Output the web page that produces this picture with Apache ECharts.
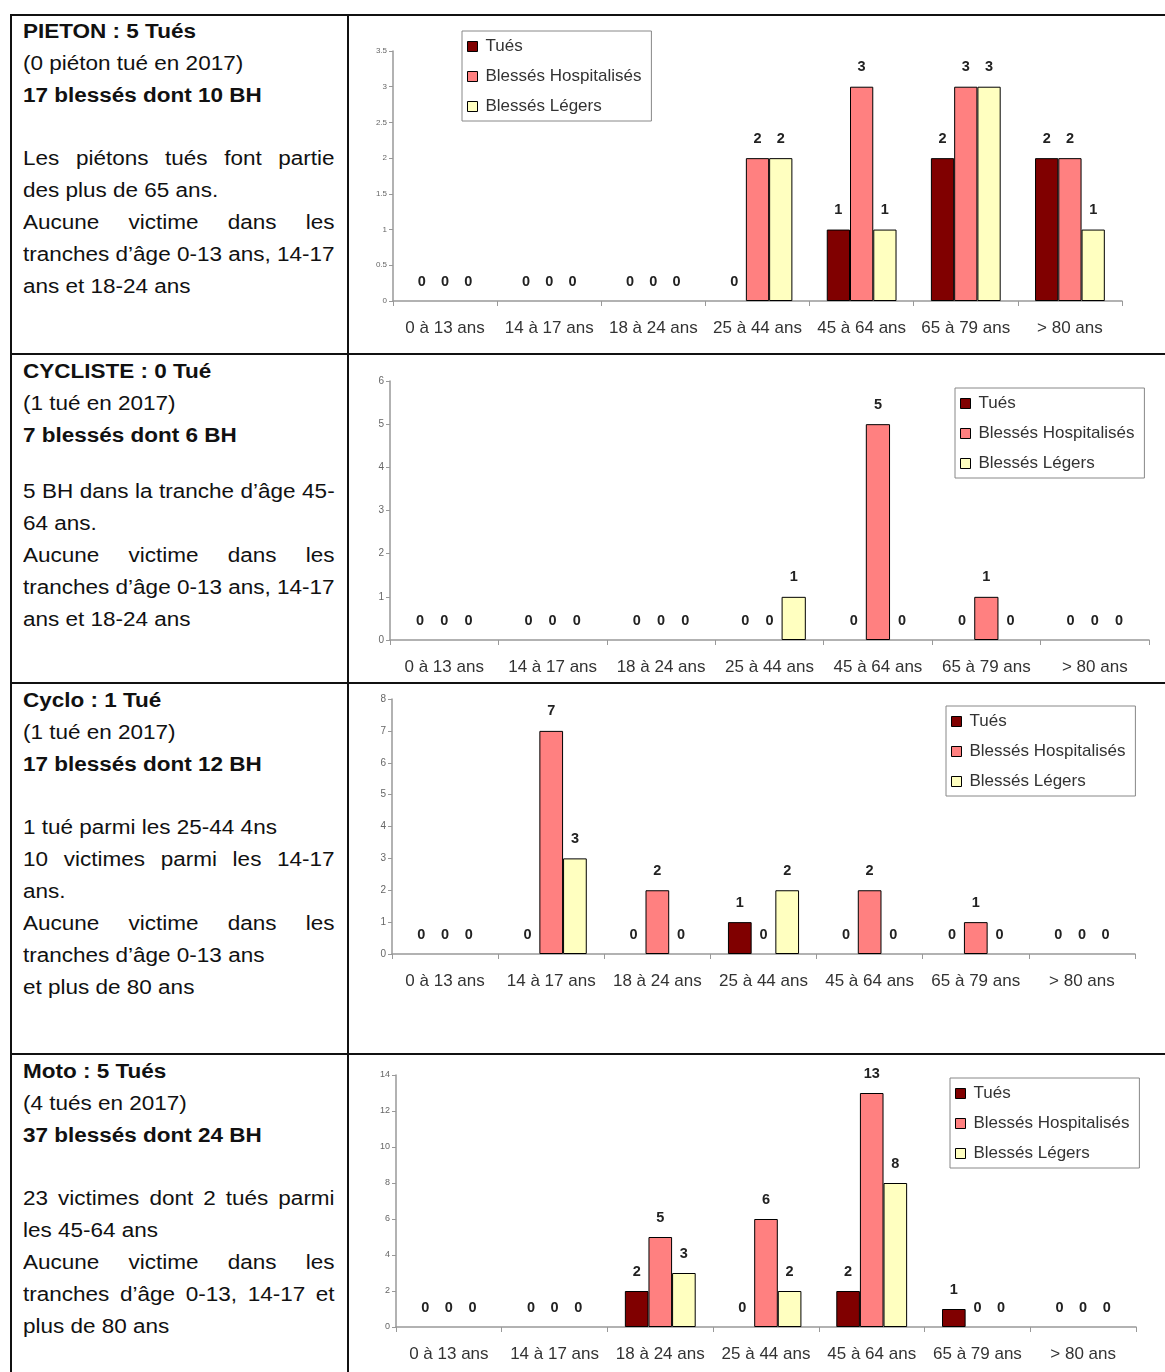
<!DOCTYPE html>
<html>
<head>
<meta charset="utf-8">
<script src="https://cdn.jsdelivr.net/npm/echarts@6/dist/echarts.min.js"></script>
<style>
  body { margin: 0; background: #fff; width: 1165px; height: 1372px; position: relative; overflow: hidden; }
  .line { position: absolute; background: #111; }
  .txt {
    position: absolute; left: 23px; width: 277px;
    font-family: "Liberation Sans", Arial, sans-serif; font-size: 20px; line-height: 32px;
    color: #111; transform: scaleX(1.125); transform-origin: left top;
  }
  .txt div { white-space: nowrap; }
  .txt .b { font-weight: bold; }
  .txt .j { text-align: justify; text-align-last: justify; }
  .chart { position: absolute; left: 349px; width: 816px; }
</style>
</head>
<body>
<!-- table frame -->
<div class="line" style="left:10px;top:14px;width:1155px;height:2px"></div>
<div class="line" style="left:10px;top:14px;width:2px;height:1358px"></div>
<div class="line" style="left:347px;top:14px;width:2px;height:1358px"></div>
<div class="line" style="left:10px;top:353px;width:1155px;height:2px"></div>
<div class="line" style="left:10px;top:682px;width:1155px;height:2px"></div>
<div class="line" style="left:10px;top:1053px;width:1155px;height:2px"></div>

<!-- left column texts -->
<div class="txt" style="top:15px">
  <div class="b">PIETON : 5 Tués</div>
  <div>(0 piéton tué en 2017)</div>
  <div class="b">17 blessés dont 10 BH</div>
  <div style="height:31px"></div>
  <div class="j">Les piétons tués font partie</div>
  <div>des plus de 65 ans.</div>
  <div class="j">Aucune victime dans les</div>
  <div class="j">tranches d’âge 0-13 ans, 14-17</div>
  <div>ans et 18-24 ans</div>
</div>
<div class="txt" style="top:355px">
  <div class="b">CYCLISTE : 0 Tué</div>
  <div>(1 tué en 2017)</div>
  <div class="b">7 blessés dont 6 BH</div>
  <div style="height:24px"></div>
  <div class="j">5 BH dans la tranche d’âge 45-</div>
  <div>64 ans.</div>
  <div class="j">Aucune victime dans les</div>
  <div class="j">tranches d’âge 0-13 ans, 14-17</div>
  <div>ans et 18-24 ans</div>
</div>
<div class="txt" style="top:684px">
  <div class="b">Cyclo : 1 Tué</div>
  <div>(1 tué en 2017)</div>
  <div class="b">17 blessés dont 12 BH</div>
  <div style="height:31px"></div>
  <div>1 tué parmi les 25-44 4ns</div>
  <div class="j">10 victimes parmi les 14-17</div>
  <div>ans.</div>
  <div class="j">Aucune victime dans les</div>
  <div>tranches d’âge 0-13 ans</div>
  <div>et plus de 80 ans</div>
</div>
<div class="txt" style="top:1055px">
  <div class="b">Moto : 5 Tués</div>
  <div>(4 tués en 2017)</div>
  <div class="b">37 blessés dont 24 BH</div>
  <div style="height:31px"></div>
  <div class="j">23 victimes dont 2 tués parmi</div>
  <div>les 45-64 ans</div>
  <div class="j">Aucune victime dans les</div>
  <div class="j">tranches d’âge 0-13, 14-17 et</div>
  <div>plus de 80 ans</div>
</div>

<!-- charts -->
<div id="pieton" class="chart" style="top:16px;height:337px"></div>
<div id="cycliste" class="chart" style="top:355px;height:327px"></div>
<div id="cyclo" class="chart" style="top:684px;height:369px"></div>
<div id="moto" class="chart" style="top:1055px;height:317px"></div>

<script>
  const categories = ['0 à 13 ans', '14 à 17 ans', '18 à 24 ans', '25 à 44 ans', '45 à 64 ans', '65 à 79 ans', '> 80 ans'];
  const seriesNames = ['Tués', 'Blessés Hospitalisés', 'Blessés Légers'];

  const pietonTues = [0, 0, 0, 0, 1, 2, 2];
  const pietonBH   = [0, 0, 0, 2, 3, 3, 2];
  const pietonBL   = [0, 0, 0, 2, 1, 3, 1];

  const cyclisteTues = [0, 0, 0, 0, 0, 0, 0];
  const cyclisteBH   = [0, 0, 0, 0, 5, 1, 0];
  const cyclisteBL   = [0, 0, 0, 1, 0, 0, 0];

  const cycloTues = [0, 0, 0, 1, 0, 0, 0];
  const cycloBH   = [0, 7, 2, 0, 2, 1, 0];
  const cycloBL   = [0, 3, 0, 2, 0, 0, 0];

  const motoTues = [0, 0, 2, 0, 2, 1, 0];
  const motoBH   = [0, 0, 5, 6, 13, 0, 0];
  const motoBL   = [0, 0, 3, 2, 8, 0, 0];

  const colors = ['#800000', '#ff8080', '#ffffc0'];
  const font = '"Liberation Sans", Arial, sans-serif';

  // zero bars get no outline, like Excel
  function items(values) {
    return values.map(v => v === 0 ? { value: v, itemStyle: { borderWidth: 0 } } : v);
  }

  function makeChart(id, data, yMax, yInterval, yFont, grid, legendPos) {
    const chart = echarts.init(document.getElementById(id));
    chart.setOption({
      animation: false,
      textStyle: { fontFamily: font },
      grid: grid,
      legend: {
        data: seriesNames,
        orient: 'vertical',
        left: legendPos[0],
        top: legendPos[1],
        icon: 'rect',
        itemWidth: 10,
        itemHeight: 10,
        itemGap: 13,
        padding: [7, 10, 6, 5],
        backgroundColor: '#fff',
        borderColor: '#888',
        borderWidth: 1,
        itemStyle: { borderColor: '#000', borderWidth: 1 },
        textStyle: { fontFamily: font, fontSize: 17, color: '#333', padding: [0, 0, 0, 3] }
      },
      xAxis: {
        type: 'category',
        data: categories,
        axisLine: { lineStyle: { color: '#999', width: 1.5 } },
        axisTick: { show: true, length: 5, lineStyle: { color: '#999' } },
        axisLabel: { fontFamily: font, fontSize: 17, color: '#333', margin: 19, interval: 0 }
      },
      yAxis: {
        type: 'value',
        min: 0,
        max: yMax,
        interval: yInterval,
        splitLine: { show: false },
        axisLine: { show: true, lineStyle: { color: '#999', width: 1.5 } },
        axisTick: { show: true, length: 4, lineStyle: { color: '#999' } },
        axisLabel: { fontFamily: font, fontSize: yFont, color: '#666', margin: 6 }
      },
      series: data.map((vals, i) => ({
        name: seriesNames[i],
        type: 'bar',
        data: items(vals),
        barGap: '0%',
        barCategoryGap: '33%',
        itemStyle: { color: colors[i], borderColor: '#000', borderWidth: 1 },
        label: {
          show: true,
          position: 'top',
          distance: 12,
          fontFamily: font,
          fontSize: 14.5,
          fontWeight: 'bold',
          color: '#222'
        }
      }))
    });
  }

  makeChart('pieton', [pietonTues, pietonBH, pietonBL], 3.5, 0.5, 8,
    { left: 44, top: 35, width: 729, height: 250 }, [113, 15]);
  makeChart('cycliste', [cyclisteTues, cyclisteBH, cyclisteBL], 6, 1, 10,
    { left: 41, top: 26, width: 759, height: 259 }, [606, 33]);
  makeChart('cyclo', [cycloTues, cycloBH, cycloBL], 8, 1, 10,
    { left: 43, top: 15, width: 743, height: 255 }, [597, 22]);
  makeChart('moto', [motoTues, motoBH, motoBL], 14, 2, 9,
    { left: 47, top: 20, width: 740, height: 252 }, [601, 23]);
</script>
</body>
</html>
